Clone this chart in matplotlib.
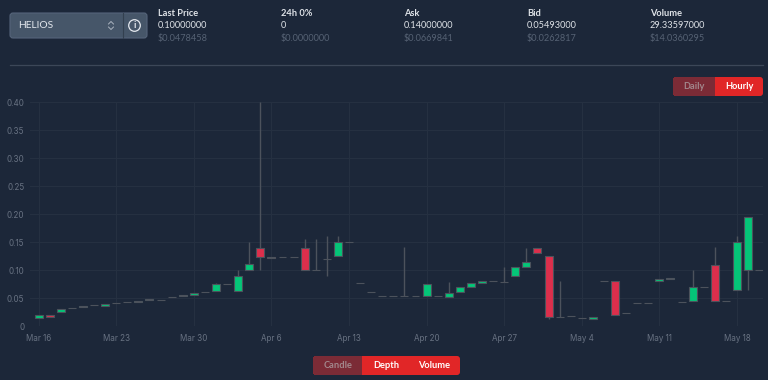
import matplotlib
matplotlib.use("Agg")
import matplotlib.pyplot as plt
from matplotlib.patches import FancyBboxPatch, Rectangle, Circle

BG = "#1c2739"
GREEN = "#05c578"
RED = "#dc2f4c"
EDGE = "#4c525c"
GRID = "#263142"
FONT = "Lato"

# days since Mar 16
opens = [.015, .019, .025, .033, .034, .037, .036, .041, .042, .043, .047, .047, .052, .053, .055, .060,
         .0625, .075, .0625, .100, .140, .123, .123, .123, .140, .100, .120, .125, .150, .077, .060, .0536,
         .0536, .0536, .0536, .053, .0536, .051, .060, .069, .076, .080, .079, .0893, .105, .139, .1245, .016,
         .017, .0137, .013, .080, .080, .0238, .0416, .0416, .080, .0835, .042, .0445, .0696, .109, .0445,
         .0643, .100, .100]
closes = [.020, .016, .030, .033, .036, .037, .039, .041, .042, .045, .049, .047, .052, .055, .059, .060,
          .075, .075, .090, .110, .123, .121, .123, .123, .100, .100, .120, .150, .150, .077, .060, .0536,
          .0536, .0536, .0536, .0745, .0536, .0595, .069, .076, .080, .080, .079, .105, .114, .130, .0155, .016,
          .017, .0137, .0155, .080, .019, .0238, .0416, .0416, .0835, .086, .042, .069, .0696, .0445, .0445,
          .1495, .194, .100]
highs = [.020, .019, .030, .033, .036, .037, .039, .041, .042, .045, .049, .047, .052, .055, .059, .060,
         .077, .075, .100, .150, .400, .123, .123, .123, .155, .155, .160, .160, .150, .077, .060, .0536,
         .0536, .1416, .0536, .0745, .0536, .078, .069, .076, .080, .080, .106, .105, .139, .139, .1245, .080,
         .017, .0137, .0155, .080, .080, .0238, .0416, .0416, .0835, .086, .042, .100, .0696, .1416, .0445,
         .160, .194, .100]
lows = [.015, .016, .025, .033, .034, .037, .036, .041, .042, .043, .047, .047, .052, .053, .055, .060,
        .0625, .075, .0625, .100, .100, .121, .123, .123, .100, .100, .090, .125, .150, .077, .060, .0536,
        .0536, .0536, .0536, .053, .0536, .051, .060, .069, .076, .080, .079, .0893, .105, .130, .012, .016,
        .017, .0137, .013, .080, .019, .0238, .0416, .0416, .080, .0835, .042, .0445, .0696, .0445, .0445,
        .0643, .064, .100]

tick_days = [0, 7, 14, 21, 28, 35, 42, 49, 56, 63]
tick_labels = ["Mar 16", "Mar 23", "Mar 30", "Apr 6", "Apr 13", "Apr 20", "Apr 27", "May 4", "May 11", "May 18"]
y_ticks = [0, .05, .10, .15, .20, .25, .30, .35, .40]
y_labels = ["0", "0.05", "0.10", "0.15", "0.20", "0.25", "0.30", "0.35", "0.40"]

stats = [("Last Price", "0.10000000", "$0.0478458"),
         ("24h 0%", "0", "$0.0000000"),
         ("Ask", "0.14000000", "$0.0669841"),
         ("Bid", "0.05493000", "$0.0262817"),
         ("Volume", "29.33597000", "$14.0360295")]
stat_x = [158, 281, 404, 527, 650]

W, H = 768, 380
fig = plt.figure(figsize=(W / 100, H / 100), dpi=100, facecolor=BG)

# page furniture drawn in pixel coordinates
ui = fig.add_axes([0, 0, 1, 1])
ui.set_xlim(0, W)
ui.set_ylim(H, 0)
ui.axis("off")


def button(x0, x1, y0, y1, color, edge="none"):
    ui.add_patch(FancyBboxPatch((x0 + 3, y0 + 3), x1 - x0 - 6, y1 - y0 - 6, boxstyle="round,pad=3",
                                fc=color, ec=edge, lw=0.8))


def label(x, y, s, color="white", size=6.7, weight="bold", ha="center"):
    ui.text(x, y, s, color=color, fontsize=size, fontweight=weight, ha=ha, va="center", family=FONT)


button(10, 147, 13, 38, "#465669", "#55647a")
ui.plot([122.5, 122.5], [13, 38], color="#33404f", lw=0.8)
label(18, 25.5, "HELIOS", "#e4e8ee", 7.4, "normal", "left")
ui.plot([108.5, 111, 113.5], [24, 21.5, 24], color="#aab3bf", lw=0.7)
ui.plot([108.5, 111, 113.5], [27, 29.5, 27], color="#aab3bf", lw=0.7)
ui.add_patch(Circle((134.5, 25.5), 5.8, fc="none", ec="#e4e8ee", lw=0.9))
label(134.5, 25.7, "i", "#e4e8ee", 6.8)

for x, (a, b, c) in zip(stat_x, stats):
    label(x, 13, a, "#dfe3e8", 6.7, "bold", "left")
    label(x, 25.5, b, "#dfe3e8", 6.6, "normal", "left")
    label(x, 38, c, "#566274", 6.6, "normal", "left")

ui.plot([10, 763], [64.5, 64.5], color="#3c4758", lw=0.9)

button(673, 763, 77, 96, "#e12627")
ui.add_patch(FancyBboxPatch((676, 80), 36, 13, boxstyle="round,pad=3", fc="#7b2b36", ec="none"))
ui.add_patch(Rectangle((708, 77), 7, 19, fc="#7b2b36", ec="none"))
label(694, 86.5, "Daily", "#a2878c")
label(739, 86.5, "Hourly")

button(313, 460, 356, 375, "#e12627")
ui.add_patch(FancyBboxPatch((316, 359), 43, 13, boxstyle="round,pad=3", fc="#7b2b36", ec="none"))
ui.add_patch(Rectangle((355, 356), 7, 19, fc="#7b2b36", ec="none"))
label(338, 365.5, "Candle", "#a2878c")
label(386, 365.5, "Depth")
label(434, 365.5, "Volume")

# the candlestick chart itself
ax = fig.add_axes([30 / W, 1 - 326 / H, (763 - 30) / W, (326 - 102) / H], facecolor="none")
days = list(range(len(opens)))
ax.vlines(days, lows, highs, color=EDGE, lw=1.0, zorder=2)
colors = [GREEN if c > o else RED if c < o else EDGE for o, c in zip(opens, closes)]
ax.bar(days, [c - o for o, c in zip(opens, closes)], bottom=opens, width=0.72, color=colors,
       edgecolor=EDGE, linewidth=0.8, zorder=3)

ax.set_xlim(-0.78, 65.35)
ax.set_ylim(0, 0.40)
ax.set_xticks(tick_days, tick_labels)
ax.set_yticks(y_ticks, y_labels)
ax.grid(color=GRID, lw=0.7, zorder=0)
ax.set_axisbelow(True)
ax.tick_params(length=0, pad=6, colors="#687282", labelsize=5.8)
ax.tick_params(axis="y", pad=4)
for lab in ax.get_xticklabels() + ax.get_yticklabels():
    lab.set_family("Inter")
for s in ax.spines.values():
    s.set_visible(False)

fig.savefig("out.png", dpi=100, facecolor=BG)
